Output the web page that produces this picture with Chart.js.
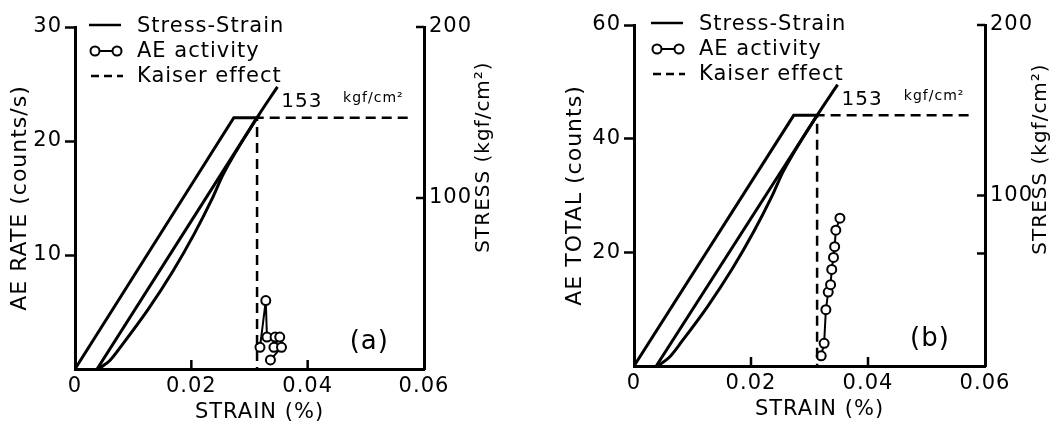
<!DOCTYPE html>
<html>
<head>
<meta charset="utf-8">
<script src="https://cdn.jsdelivr.net/npm/chart.js@4"></script>
<style>
  body { margin: 0; background: #fff; width: 1060px; height: 426px; overflow: hidden; position: relative; }
  canvas { position: absolute; top: 0; }
  #panelA { left: 0; }
  #panelB { left: 530px; }
</style>
</head>
<body>
<canvas id="panelA" width="530" height="426"></canvas>
<canvas id="panelB" width="530" height="426"></canvas>
<script>
// stress-strain loop (strain %, stress kgf/cm2)
const strainLoad = [0, 0.0273, 0.0313, 0.0038];
const stressLoad = [0, 147, 147, 0];
const strainReload = [0.0040, 0.0060, 0.0083, 0.0126, 0.0168, 0.0205, 0.0235, 0.0255, 0.0313, 0.0348];
const stressReload = [0, 5, 15, 35, 57, 79, 99, 114, 147, 165];
// Kaiser effect marker
const strainKaiser = [0.0572, 0.0313, 0.0313];
const stressKaiser = [147, 147, 0];
// (a) AE rate, counts/s
const strainRate = [0.0318, 0.0328, 0.0330, 0.0344, 0.0352, 0.0342, 0.0355, 0.0336];
const aeRate = [1.9, 6.0, 2.8, 2.8, 2.8, 1.9, 1.9, 0.8];
// (b) AE total, counts
const strainTotal = [0.0320, 0.0325, 0.0328, 0.0332, 0.0336, 0.0338, 0.0341, 0.0343, 0.0345, 0.0352];
const aeTotal = [1.8, 4.0, 9.9, 13.0, 14.3, 17.0, 19.1, 21.0, 23.9, 26.0];
// axes
const strainTicks = [0, 0.02, 0.04, 0.06];
const strainLabels = ['0', '0.02', '0.04', '0.06'];
const stressTicks = [100, 200];

const FONT = 'DejaVu Sans';
const pts = (xs, ys) => xs.map((x, i) => ({ x: x, y: ys[i] }));

function line(ctx, x1, y1, x2, y2) {
  ctx.beginPath(); ctx.moveTo(x1, y1); ctx.lineTo(x2, y2); ctx.stroke();
}

function makePanel(id, p) {
  const deco = {
    id: 'deco',
    beforeDraw(chart) { chart.ctx.letterSpacing = '1px'; },
    afterDraw(chart) {
      const { ctx, chartArea: ca, scales } = chart;
      const x = scales.x, y2 = scales.y2;
      ctx.save();
      ctx.letterSpacing = '1px';
      ctx.strokeStyle = '#000';
      ctx.fillStyle = '#000';
      ctx.lineWidth = 2.5;
      // inward tick marks
      strainTicks.slice(1, 3).forEach(v => {
        const px = x.getPixelForValue(v);
        line(ctx, px, ca.bottom, px, ca.bottom - 9);
      });
      p.rightMarks.forEach(v => {
        const py = y2.getPixelForValue(v);
        line(ctx, ca.right, py, ca.right - 8, py);
      });
      // legend
      const lx = ca.left + p.legendDx, ty = ca.top;
      ctx.font = '21px "' + FONT + '"';
      ctx.textBaseline = 'middle';
      ctx.textAlign = 'left';
      ctx.lineWidth = 2.5;
      line(ctx, lx + 14, ty - 2, lx + 46, ty - 2);
      ctx.fillText('Stress-Strain', lx + 62, ty);
      ctx.lineWidth = 2;
      line(ctx, lx + 20, ty + 24, lx + 42, ty + 24);
      [20, 42].forEach(dx => {
        ctx.beginPath(); ctx.arc(lx + dx, ty + 24, 4.5, 0, Math.PI * 2);
        ctx.fillStyle = '#fff'; ctx.fill(); ctx.stroke();
      });
      ctx.fillStyle = '#000';
      ctx.fillText('AE activity', lx + 62, ty + 25);
      ctx.lineWidth = 2.5;
      ctx.setLineDash([8, 5]);
      line(ctx, lx + 16, ty + 49, lx + 48, ty + 49);
      ctx.setLineDash([]);
      ctx.fillText('Kaiser effect', lx + 62, ty + 50);
      // annotations
      ctx.textAlign = 'center';
      ctx.font = '20px "' + FONT + '"';
      ctx.fillText('153', x.getPixelForValue(0.039), y2.getPixelForValue(156));
      ctx.font = '14px "' + FONT + '"';
      ctx.fillText('kgf/cm²', x.getPixelForValue(0.0513), y2.getPixelForValue(158));
      ctx.font = '26px "' + FONT + '"';
      ctx.fillText(p.tag, x.getPixelForValue(0.0506), y2.getPixelForValue(15.5));
      // x axis title
      ctx.font = '21px "' + FONT + '"';
      ctx.fillText('STRAIN (%)', (ca.left + ca.right) / 2 + 10, p.xTitleY);
      // right axis title, reading bottom to top
      ctx.font = '20px "' + FONT + '"';
      ctx.translate(p.rightTitleX, p.rightTitleY);
      ctx.rotate(-Math.PI / 2);
      ctx.fillText('STRESS (kgf/cm²)', 0, 0);
      ctx.restore();
    }
  };

  const tickFont = { family: FONT, size: 21 };
  return new Chart(document.getElementById(id), {
    type: 'scatter',
    data: {
      datasets: [
        { label: 'Stress-Strain', data: pts(strainLoad, stressLoad), yAxisID: 'y2',
          showLine: true, borderColor: '#000', borderWidth: 3, pointRadius: 0 },
        { label: 'Stress-Strain reload', data: pts(strainReload, stressReload), yAxisID: 'y2',
          showLine: true, borderColor: '#000', borderWidth: 3, pointRadius: 0,
          cubicInterpolationMode: 'monotone' },
        { label: 'Kaiser effect', data: pts(strainKaiser, stressKaiser), yAxisID: 'y2',
          showLine: true, borderColor: '#000', borderWidth: 2.5, borderDash: [10, 6], pointRadius: 0 },
        { label: 'AE activity', data: pts(p.aeStrain, p.aeVals), yAxisID: 'y',
          showLine: true, borderColor: '#000', borderWidth: 2, pointRadius: 4.5,
          pointBorderWidth: 2, pointBackgroundColor: '#fff', pointBorderColor: '#000' }
      ]
    },
    options: {
      responsive: false,
      animation: false,
      layout: { autoPadding: false, padding: { top: p.top, left: 0, right: 0, bottom: 0 } },
      plugins: { legend: { display: false }, tooltip: { enabled: false } },
      scales: {
        x: {
          type: 'linear', min: 0, max: 0.06,
          afterBuildTicks: s => { s.ticks = strainTicks.map(v => ({ value: v })); },
          afterFit: s => { s.height = p.xH; },
          grid: { display: true, drawOnChartArea: false, drawTicks: false },
          border: { display: true, color: '#000', width: 3 },
          ticks: { color: '#000', font: tickFont, padding: 5, maxRotation: 0,
            callback: (v, i) => strainLabels[i] }
        },
        y: {
          position: 'left', min: 0, max: p.leftMax,
          afterFit: s => { s.width = p.yW; },
          grid: { display: true, drawOnChartArea: false, drawTicks: true, tickLength: 10,
            tickWidth: 2.5, tickColor: c => c.tick && c.tick.value === 0 ? 'rgba(0,0,0,0)' : '#000' },
          border: { display: true, color: '#000', width: 3 },
          ticks: { color: '#000', font: tickFont, padding: 3, stepSize: p.leftMax / 3,
            callback: v => v === 0 ? '' : v },
          title: { display: true, text: p.leftTitle, color: '#000',
            font: { family: FONT, size: 22, lineHeight: 1.2 }, padding: { top: p.leftTitlePad, bottom: 0 } }
        },
        y2: {
          position: 'right', min: 0, max: 200,
          afterFit: s => { s.width = p.y2W; },
          afterBuildTicks: s => { s.ticks = stressTicks.map(v => ({ value: v })); },
          grid: { display: true, drawOnChartArea: false, drawTicks: false },
          border: { display: true, color: '#000', width: 3 },
          ticks: { color: '#000', font: tickFont, padding: 5 }
        }
      }
    },
    plugins: [deco]
  });
}

makePanel('panelA', {
  aeStrain: strainRate, aeVals: aeRate, leftMax: 30, leftTitle: 'AE RATE (counts/s)',
  yW: 75, y2W: 106, top: 27, xH: 57, leftTitlePad: 7, legendDx: 0, tag: '(a)',
  rightMarks: [100, 200], rightTitleX: 484, rightTitleY: 157, xTitleY: 413
});
makePanel('panelB', {
  aeStrain: strainTotal, aeVals: aeTotal, leftMax: 60, leftTitle: 'AE TOTAL (counts)',
  yW: 104, y2W: 75, top: 25, xH: 60, leftTitlePad: 32, legendDx: 3, tag: '(b)',
  rightMarks: [66, 100, 200], rightTitleX: 511, rightTitleY: 159, xTitleY: 410
});
</script>
</body>
</html>
